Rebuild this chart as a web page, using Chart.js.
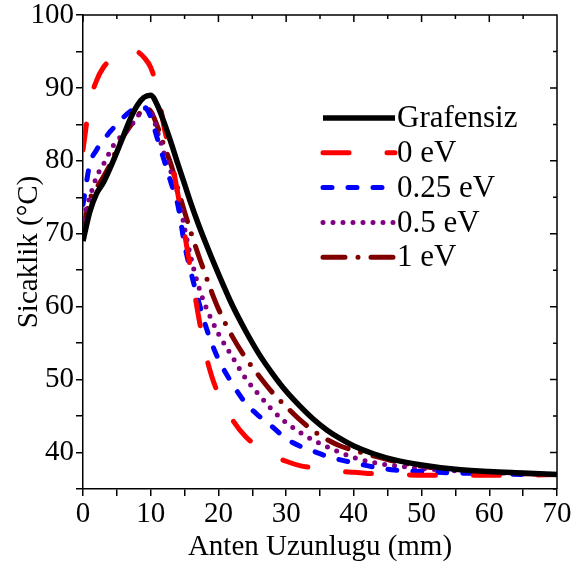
<!DOCTYPE html>
<html>
<head>
<meta charset="utf-8">
<script src="https://cdn.jsdelivr.net/npm/chart.js@4.4.1/dist/chart.umd.min.js"></script>
<style>
  html, body { margin: 0; padding: 0; background: #fff; }
  #kutu { width: 571px; height: 565px; }
</style>
</head>
<body>
<div id="kutu"><canvas id="grafik"></canvas></div>
<script>
// Anten uzunlugu (mm)
const uzunluk = [0, 1, 2, 3, 4, 5, 6, 7, 8, 9, 10, 11, 12, 13, 14, 15, 16, 17, 18, 19, 20,
    22, 24, 26, 28, 30, 32, 34, 36, 38, 40, 43, 46, 50, 55, 60, 65, 70];

// Sicaklik (°C) degerleri
const grafensiz = [69, 73, 75.5, 77, 79, 81.2, 83.5, 85.8, 87.6, 88.7, 89, 87.6, 85.2, 82.5, 79.6, 76.8, 74, 71.4, 69, 66.7, 64.5,
    60.3, 56.7, 53.5, 50.8, 48.4, 46.4, 44.6, 43.1, 41.9, 40.9, 39.8, 39, 38.3, 37.7, 37.4, 37.2, 37];
const ev0 = [81.5, 88, 91, 92.8, 93.8, 94.5, 95, 95.2, 95, 94.2, 92.8, 89.7, 84.5, 80.5, 75.5, 70, 64.5, 59, 54, 50.5, 48,
    44.6, 42.2, 40.7, 39.6, 38.8, 38.2, 37.9, 37.6, 37.4, 37.3, 37.1, 37, 36.9, 36.9, 36.9, 36.9, 37];
const ev025 = [74, 79.5, 81.5, 82.8, 84, 85, 86, 86.8, 87.3, 87.4, 86, 83, 80, 77, 74, 68.5, 64.5, 61, 57.7, 55, 52.8,
    49.5, 46.8, 45, 43.5, 41.9, 40.9, 40.2, 39.5, 39, 38.6, 38, 37.6, 37.4, 37.2, 37.1, 37, 37];
const ev05 = [72, 75, 77.8, 79.5, 81.3, 82.8, 83.6, 84.7, 86, 87.2, 86.8, 84, 81, 78.5, 75.5, 70.8, 66.5, 63, 60.3, 58.2, 56.3,
    53.2, 50.2, 47.9, 45.8, 44.1, 42.8, 41.7, 40.8, 40, 39.3, 38.6, 38.2, 37.8, 37.5, 37.3, 37.1, 37];
const ev1 = [70.5, 74.7, 76.3, 77.8, 79.5, 81.6, 83.4, 84.8, 86, 87.2, 86.8, 84.7, 82, 79.5, 76.2, 73, 70, 67.2, 64.6, 62, 59.7,
    56, 53, 50.5, 48.2, 46.3, 44.5, 43, 41.8, 40.9, 40.3, 39.5, 38.8, 38.1, 37.6, 37.3, 37.1, 37];

const seriAdlari = ['Grafensiz', '0 eV', '0.25 eV', '0.5 eV', '1 eV'];
const xEtiketleri = [0, 10, 20, 30, 40, 50, 60, 70];
const yEtiketleri = [40, 50, 60, 70, 80, 90, 100];

const yaziTipi = "'Liberation Serif', 'Times New Roman', serif";

function noktalar(dizi) {
    return dizi.map((v, i) => ({ x: uzunluk[i], y: v }));
}

// Ust ve sag kenar, iceri bakan cizgiler + lejant
const cerceveEklentisi = {
    id: 'cerceve',
    afterDatasetsDraw(chart) {
        const ctx = chart.ctx;
        const a = chart.chartArea;
        const xs = chart.scales.x, ys = chart.scales.y;
        ctx.save();
        ctx.strokeStyle = '#000';
        ctx.lineWidth = 1.5;
        ctx.beginPath();
        ctx.moveTo(a.left, a.top); ctx.lineTo(a.right, a.top); ctx.lineTo(a.right, a.bottom);
        for (let v = 0; v <= 70; v += 5) {
            const px = xs.getPixelForValue(v);
            ctx.moveTo(px, a.top); ctx.lineTo(px, a.top + (v % 10 === 0 ? 7 : 4));
        }
        for (let v = 35; v <= 100; v += 5) {
            const py = ys.getPixelForValue(v);
            ctx.moveTo(a.right, py); ctx.lineTo(a.right - (v % 10 === 0 ? 7 : 4), py);
        }
        ctx.stroke();

        // lejant
        const lx = 323, ly = 118, aralik = 34.8;
        chart.data.datasets.forEach((ds, i) => {
            const y = ly + i * aralik;
            ctx.beginPath();
            ctx.strokeStyle = ds.borderColor;
            ctx.lineWidth = ds.borderWidth;
            ctx.lineCap = ds.borderCapStyle || 'butt';
            ctx.setLineDash(ds.borderDash || []);
            ctx.moveTo(lx, y); ctx.lineTo(lx + 72, y);
            ctx.stroke();
            ctx.setLineDash([]);
            ctx.fillStyle = '#000';
            ctx.font = '31px ' + yaziTipi;
            ctx.textBaseline = 'middle';
            ctx.fillText(ds.label, lx + 74, y + 1);
        });
        ctx.restore();
    }
};

new Chart(document.getElementById('grafik'), {
    type: 'line',
    data: {
        datasets: [
            { label: seriAdlari[0], data: noktalar(grafensiz), borderColor: '#000000', borderWidth: 5.5 },
            { label: seriAdlari[1], data: noktalar(ev0), borderColor: '#ff0000', borderWidth: 5, borderCapStyle: 'round', borderDash: [26, 38] },
            { label: seriAdlari[2], data: noktalar(ev025), borderColor: '#0000ff', borderWidth: 5, borderCapStyle: 'round', borderDash: [9, 16] },
            { label: seriAdlari[3], data: noktalar(ev05), borderColor: '#800080', borderWidth: 5, borderCapStyle: 'round', borderDash: [0, 10] },
            { label: seriAdlari[4], data: noktalar(ev1), borderColor: '#800000', borderWidth: 5, borderCapStyle: 'round', borderDash: [22, 13, 0, 13] }
        ]
    },
    options: {
        responsive: true,
        maintainAspectRatio: false,
        animation: false,
        layout: { padding: { top: 15, right: 14, left: 0, bottom: 0 } },
        elements: {
            point: { radius: 0 },
            line: { cubicInterpolationMode: 'monotone', fill: false }
        },
        plugins: {
            legend: { display: false },
            tooltip: { enabled: false }
        },
        scales: {
            x: {
                type: 'linear',
                min: 0,
                max: 70,
                afterFit(s) { s.height = 76; s.paddingRight = 0; s.paddingLeft = 0; },
                border: { display: true, color: '#000', width: 1.5 },
                grid: { drawOnChartArea: false, color: '#000', tickLength: 7, lineWidth: 1.5 },
                ticks: {
                    stepSize: 5,
                    autoSkip: false,
                    color: '#000',
                    padding: 2,
                    maxRotation: 0,
                    font: { family: yaziTipi, size: 29, lineHeight: 1.1 },
                    callback: v => xEtiketleri.includes(v) ? String(v) : ''
                },
                title: {
                    display: true,
                    text: 'Anten Uzunlugu (mm)',
                    color: '#000',
                    padding: { top: 0, bottom: 2 },
                    font: { family: yaziTipi, size: 29, lineHeight: 1.1 }
                }
            },
            y: {
                min: 35,
                max: 100,
                afterFit(s) { s.width = 83; s.paddingTop = 0; s.paddingBottom = 0; },
                border: { display: true, color: '#000', width: 1.5 },
                grid: { drawOnChartArea: false, color: '#000', tickLength: 7, lineWidth: 1.5 },
                ticks: {
                    stepSize: 5,
                    autoSkip: false,
                    color: '#000',
                    padding: 2,
                    font: { family: yaziTipi, size: 29, lineHeight: 1 },
                    callback: v => yEtiketleri.includes(v) ? String(v) : ''
                },
                title: {
                    display: true,
                    text: 'Sicaklik (°C)',
                    color: '#000',
                    padding: { top: 12, bottom: 0 },
                    font: { family: yaziTipi, size: 29 }
                }
            }
        }
    },
    plugins: [cerceveEklentisi]
});
</script>
</body>
</html>
